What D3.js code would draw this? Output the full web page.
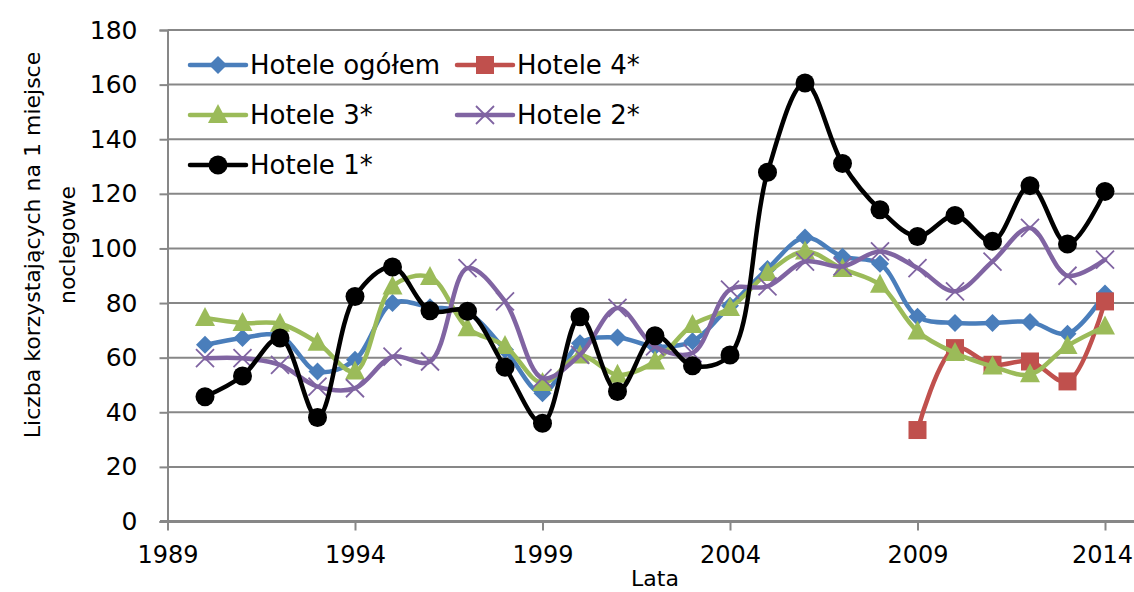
<!DOCTYPE html>
<html>
<head>
<meta charset="utf-8">
<script src="https://cdn.jsdelivr.net/npm/d3@7"></script>
<style>
  body { margin: 0; background: #fff; }
  text { font-family: "DejaVu Sans", sans-serif; fill: #000; }
</style>
</head>
<body>
<svg id="chart" width="1134" height="592"></svg>
<script>
// data
const years = d3.range(1990, 2015);
const yTicks = [0, 20, 40, 60, 80, 100, 120, 140, 160, 180];
const xTicks = [1989, 1994, 1999, 2004, 2009, 2014];

const ogolem = [64.7, 67.2, 68.0, 54.9, 59.2, 80.0, 78.5, 76.4, 62.9, 47.0, 65.3, 67.4, 64.1, 66.0, 79.0, 92.5, 104.0, 97.0, 94.4, 75.0, 72.7, 72.7, 73.1, 68.8, 83.5];
const h4 = [null, null, null, null, null, null, null, null, null, null, null, null, null, null, null, null, null, null, null, 33.5, 63.5, 57.4, 58.6, 51.3, 80.6];
const h3 = [74.5, 72.7, 72.4, 65.5, 54.9, 86.1, 89.5, 70.8, 64.3, 50.7, 60.8, 53.7, 58.6, 72.0, 78.2, 91.0, 98.9, 92.5, 86.7, 69.6, 61.7, 56.8, 53.9, 64.3, 71.4];
const h2 = [59.8, 59.8, 57.4, 49.4, 48.8, 60.4, 58.6, 92.8, 80.6, 52.5, 61.0, 78.2, 64.1, 61.7, 84.9, 86.1, 95.2, 93.4, 98.9, 92.8, 84.3, 95.2, 107.5, 90.0, 95.9];
const h1 = [45.7, 53.3, 67.2, 38.1, 82.4, 93.2, 77.2, 77.0, 56.5, 36.0, 75.0, 47.6, 68.0, 57.0, 61.0, 127.9, 160.6, 131.1, 114.2, 104.4, 112.1, 102.6, 123.0, 101.6, 120.9];

const seriesNames = ['Hotele ogółem', 'Hotele 4*', 'Hotele 3*', 'Hotele 2*', 'Hotele 1*'];
const seriesValues = [ogolem, h4, h3, h2, h1];
const seriesColors = ['#4a7ebb', '#c0504d', '#9bbb59', '#8064a2', '#000000'];
const seriesMarkers = ['diamond', 'square', 'triangle', 'cross', 'circle'];

const svg = d3.select('#chart');
const gridColor = '#878787';

let x = d3.scaleLinear().domain([1989, 2015]).range([167.5, 1142.5]);
let y = d3.scaleLinear().domain([0, 180]).range([521.5, 30]);

// gridlines
svg.append('g')
    .selectAll('line')
    .data(yTicks.slice(1))
    .enter()
    .append('line')
    .attr('x1', 167.5)
    .attr('x2', 1134)
    .attr('y1', d => y(d))
    .attr('y2', d => y(d))
    .attr('stroke', gridColor)
    .attr('stroke-width', 2);

// y axis
let yAxis = svg.append('g')
    .attr('transform', 'translate(167.5,0)')
    .call(d3.axisLeft(y).tickValues(yTicks).tickSize(8).tickPadding(22));
yAxis.select('.domain').attr('stroke', gridColor).attr('stroke-width', 2);
yAxis.selectAll('.tick line').attr('stroke', gridColor).attr('stroke-width', 2);
yAxis.selectAll('.tick text')
    .attr('font-family', '"DejaVu Sans", sans-serif')
    .attr('font-size', 25)
    .attr('fill', '#000');

// x axis
let xAxis = svg.append('g')
    .attr('transform', 'translate(0,521.5)')
    .call(d3.axisBottom(x).tickValues(xTicks).tickFormat(d3.format('d')).tickSize(9).tickPadding(15));
xAxis.select('.domain').attr('d', 'M160,0H1134').attr('stroke', gridColor).attr('stroke-width', 3);
xAxis.selectAll('.tick line').attr('stroke', gridColor).attr('stroke-width', 2);
xAxis.selectAll('.tick text')
    .attr('font-family', '"DejaVu Sans", sans-serif')
    .attr('font-size', 24)
    .attr('fill', '#000');
// last label sits against the right edge as in the original
xAxis.selectAll('.tick text').filter(d => d === 2014).attr('dx', -3);

// axis titles
svg.append('text')
    .attr('transform', 'translate(40,245) rotate(-90)')
    .attr('text-anchor', 'middle')
    .attr('font-size', 22)
    .text('Liczba korzystających na 1 miejsce');
svg.append('text')
    .attr('transform', 'translate(75,245) rotate(-90)')
    .attr('text-anchor', 'middle')
    .attr('font-size', 22)
    .text('noclegowe');
svg.append('text')
    .attr('x', 655)
    .attr('y', 586)
    .attr('text-anchor', 'middle')
    .attr('font-size', 22)
    .text('Lata');

/**
 * Draws one marker of given type at the origin of group g
 */
function drawMarker(g, type, color){
    if (type === 'diamond'){
        g.append('path').attr('d', 'M0,-9L9,0L0,9L-9,0Z').attr('fill', color);
    }
    else if (type === 'square'){
        g.append('rect').attr('x', -9).attr('y', -9).attr('width', 18).attr('height', 18).attr('fill', color);
    }
    else if (type === 'triangle'){
        g.append('path').attr('d', 'M0,-11L10,8L-10,8Z').attr('fill', color);
    }
    else if (type === 'cross'){
        g.append('path').attr('d', 'M-9,-9L9,9M-9,9L9,-9').attr('stroke', color).attr('stroke-width', 1.8).attr('fill', 'none');
    }
    else if (type === 'circle'){
        g.append('circle').attr('r', 9.5).attr('fill', color);
    }
}

let line = d3.line()
    .defined(d => d[1] !== null)
    .x(d => x(d[0]))
    .y(d => y(d[1]))
    .curve(d3.curveCatmullRom.alpha(0.5));

seriesValues.forEach(function(vals, i){
    let pts = years.map((yr, j) => [yr, vals[j]]);
    svg.append('path')
        .datum(pts)
        .attr('d', line)
        .attr('fill', 'none')
        .attr('stroke', seriesColors[i])
        .attr('stroke-width', 4.5)
        .attr('stroke-linejoin', 'round')
        .attr('stroke-linecap', 'round');
    pts.filter(d => d[1] !== null).forEach(function(d){
        let g = svg.append('g').attr('transform', `translate(${x(d[0])},${y(d[1])})`);
        drawMarker(g, seriesMarkers[i], seriesColors[i]);
    });
});

// legend
let legendPos = [[190, 65], [457, 65], [190, 115], [457, 115], [190, 165]];
seriesNames.forEach(function(name, i){
    let lx = legendPos[i][0], ly = legendPos[i][1];
    svg.append('line')
        .attr('x1', lx).attr('x2', lx + 56)
        .attr('y1', ly).attr('y2', ly)
        .attr('stroke', seriesColors[i])
        .attr('stroke-width', 4.5)
        .attr('stroke-linecap', 'round');
    let g = svg.append('g').attr('transform', `translate(${lx + 28},${ly})`);
    drawMarker(g, seriesMarkers[i], seriesColors[i]);
    svg.append('text')
        .attr('x', lx + 60)
        .attr('y', ly + 9)
        .attr('font-size', 26)
        .text(name);
});
</script>
</body>
</html>
